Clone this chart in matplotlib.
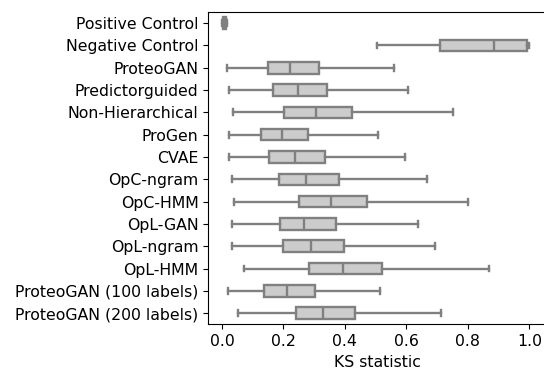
import matplotlib
matplotlib.use("Agg")
import matplotlib.pyplot as plt

models = [
    "Positive Control", "Negative Control", "ProteoGAN", "Predictorguided",
    "Non-Hierarchical", "ProGen", "CVAE", "OpC-ngram", "OpC-HMM", "OpL-GAN",
    "OpL-ngram", "OpL-HMM", "ProteoGAN (100 labels)", "ProteoGAN (200 labels)",
]
# five-number summaries of the KS statistic per model
whisker_low = [0.001, 0.503, 0.017, 0.022, 0.035, 0.022, 0.023, 0.034, 0.038, 0.034, 0.034, 0.072, 0.018, 0.053]
q1 = [0.004, 0.709, 0.149, 0.167, 0.203, 0.127, 0.154, 0.187, 0.251, 0.190, 0.200, 0.284, 0.137, 0.240]
median = [0.008, 0.885, 0.222, 0.246, 0.307, 0.195, 0.238, 0.273, 0.354, 0.268, 0.290, 0.395, 0.210, 0.330]
q3 = [0.012, 0.994, 0.315, 0.343, 0.423, 0.281, 0.334, 0.381, 0.472, 0.371, 0.398, 0.520, 0.303, 0.432]
whisker_high = [0.015, 1.0, 0.559, 0.606, 0.753, 0.509, 0.597, 0.668, 0.800, 0.637, 0.694, 0.869, 0.514, 0.712]

stats = [
    {"label": m, "whislo": lo, "q1": a, "med": md, "q3": b, "whishi": hi, "fliers": []}
    for m, lo, a, md, b, hi in zip(models, whisker_low, q1, median, q3, whisker_high)
]

fig = plt.figure(figsize=(5.44, 3.74), dpi=100)
ax = fig.add_axes([208.3 / 544, 1 - 324.3 / 374, (546 - 208.3) / 544, (324.3 - 12) / 374])

edge = "#808080"
lw = 1.7
ax.bxp(
    stats, positions=range(len(models)), vert=False, widths=0.52,
    patch_artist=True, showfliers=False,
    boxprops=dict(facecolor="#cccccc", edgecolor=edge, linewidth=lw),
    medianprops=dict(color=edge, linewidth=lw),
    whiskerprops=dict(color=edge, linewidth=lw),
    capprops=dict(color=edge, linewidth=lw),
    capwidths=0.26,
)

fs = 11.3
ax.set_yticks(range(len(models)))
ax.set_yticklabels(models, fontsize=fs)
ax.set_ylim(len(models) - 0.5, -0.5)
ax.set_xlim(-0.0446, (546 - 222) / 307.3)
ax.set_xticks([0.0, 0.2, 0.4, 0.6, 0.8, 1.0])
ax.tick_params(axis="x", labelsize=fs)
ax.set_xlabel("KS statistic", fontsize=fs)
ax.spines["right"].set_visible(False)

fig.savefig("out.png", dpi=100)
